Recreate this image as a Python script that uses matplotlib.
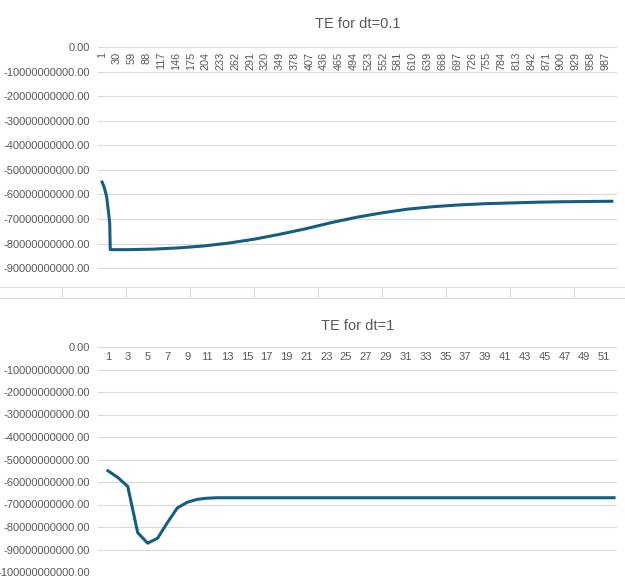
import matplotlib.pyplot as plt
from matplotlib.lines import Line2D
from matplotlib.transforms import blended_transform_factory

# dt=0.1 run, sampled at step numbers
steps_01 = [1, 5, 10, 14, 16, 17, 50, 100, 150, 200, 250, 300, 350, 400, 450,
            500, 550, 600, 650, 700, 750, 800, 850, 900, 950, 1000]
te_01 = [-5.5, -5.7, -6.1, -6.8, -7.2, -8.25, -8.25, -8.23, -8.18, -8.1, -7.98,
         -7.82, -7.62, -7.4, -7.15, -6.93, -6.75, -6.6, -6.5, -6.43, -6.38,
         -6.35, -6.32, -6.3, -6.29, -6.28]
te_01 = [v * 1e10 for v in te_01]
labels_01 = list(range(1, 1000, 29))

# dt=1 run
steps_1 = list(range(1, 53))
te_1 = [-5.5, -5.8, -6.2, -8.25, -8.72, -8.5, -7.8, -7.15, -6.9, -6.77, -6.72] + [-6.7] * 41
te_1 = [v * 1e10 for v in te_1]
labels_1 = list(range(1, 52, 2))

LINE = '#175e7e'
GRID = '#d9d9d9'
TXT = '#595959'

plt.rcParams['font.family'] = ['Liberation Sans', 'DejaVu Sans']
fig = plt.figure(figsize=(6.25, 5.87), dpi=100)
W, H = 625, 587


def setup(ax, ymin, nticks, xmin, xmax, ticks, rot, fs):
    yticks = [-i * 1e10 for i in range(0, nticks)]
    ax.set_ylim(ymin, 0)
    ax.set_xlim(xmin, xmax)
    ax.set_yticks(yticks)
    ax.set_yticklabels(['%.2f' % v for v in yticks], color=TXT, fontsize=8)
    ax.set_xticks([])
    ax.grid(axis='y', color=GRID, lw=0.8)
    ax.set_axisbelow(True)
    for s in ax.spines.values():
        s.set_visible(False)
    ax.tick_params(axis='y', length=0, pad=6)
    tr = blended_transform_factory(ax.transData, ax.transData)
    for t in ticks:
        ax.text(t, -0.2e10, str(t), rotation=rot, ha='center', va='top',
                fontsize=fs, color=TXT, transform=tr)


# top chart: 0 at y=47 px, -9e10 at y=268 px, bottom edge at 287 px
ax1 = fig.add_axes([98 / W, 1 - 287 / H, (617 - 98) / W, (287 - 47) / H])
setup(ax1, -9.77e10, 10, -7, 1010, labels_01, 90, 7.8)
ax1.set_title('TE for dt=0.1', color=TXT, fontsize=10.5, pad=14)
ax1.plot(steps_01, te_01, color=LINE, lw=2.2)
# category axis remnant below the top chart
fig.add_artist(Line2D([0, 1], [1 - 287 / H] * 2, color=GRID, lw=0.8))
fig.add_artist(Line2D([0, 1], [1 - 298 / H] * 2, color=GRID, lw=0.8))
for px in range(62, 625, 64):
    fig.add_artist(Line2D([px / W] * 2, [1 - 287 / H, 1 - 298 / H], color=GRID, lw=0.8))

ax2 = fig.add_axes([98 / W, 1 - 572 / H, (617 - 98) / W, (572 - 347) / H])
setup(ax2, -1e11, 11, 0, 52.3, labels_1, 0, 8)
ax2.set_title('TE for dt=1', color=TXT, fontsize=10.5, pad=12)
ax2.plot(steps_1, te_1, color=LINE, lw=2.2)

fig.savefig('out.png', dpi=100)
